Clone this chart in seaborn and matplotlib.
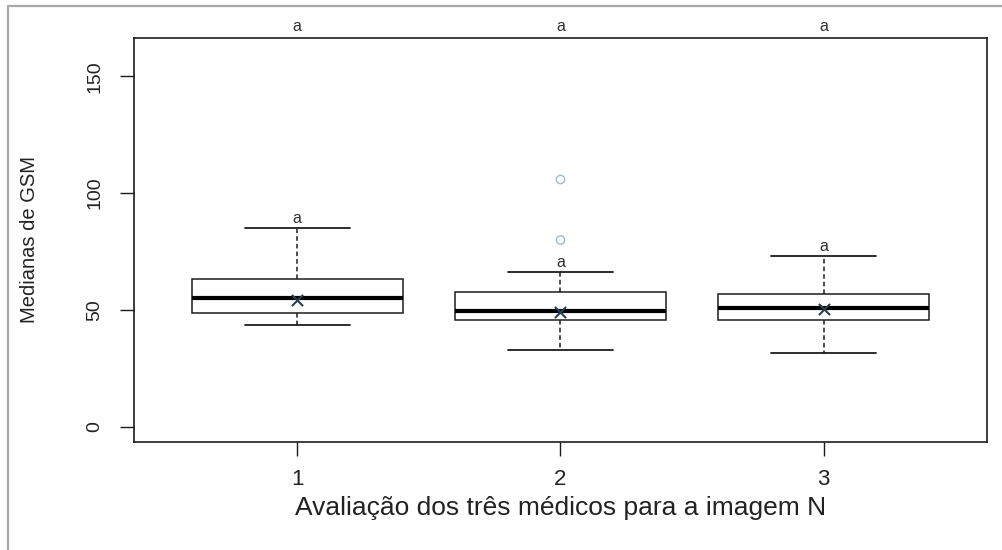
import numpy as np
import pandas as pd
import matplotlib
matplotlib.use("Agg")
import matplotlib.pyplot as plt
from matplotlib.lines import Line2D
import seaborn as sns

# values (GSM medians per doctor)
avaliadores = ["1", "2", "3"]
whisker_low = [43.4, 32.7, 31.6]
q1 = [48.7, 45.5, 45.8]
mediana = [55.1, 49.4, 50.8]
q3 = [63.4, 57.5, 57.0]
whisker_high = [85.1, 66.1, 73.2]
media = [54.3, 49.0, 50.4]
outlier_grupo = ["2", "2"]
outlier_valor = [105.8, 79.9]
letras_topo = ["a", "a", "a"]
letras_caixa = ["a", "a", "a"]

sns.set_theme(style="white")
plt.rcParams["font.family"] = ["Liberation Sans", "DejaVu Sans"]

rows = []
for i, g in enumerate(avaliadores):
    for v in (whisker_low[i], q1[i], mediana[i], q3[i], whisker_high[i]):
        rows.append({"avaliador": g, "gsm": v})
df = pd.DataFrame(rows)

LINE = "#1c1c1c"
fig = plt.figure(figsize=(10.02, 5.5), dpi=100)
ax = fig.add_axes([0.1337, 0.197, 0.8513, 0.734])

sns.boxplot(data=df, x="avaliador", y="gsm", order=avaliadores, whis=(0, 100),
            width=0.8, color="white", linecolor=LINE, linewidth=1.1,
            fliersize=0, ax=ax,
            medianprops={"linewidth": 3.0, "color": "black"},
            whiskerprops={"linestyle": (0, (3, 2)), "linewidth": 1.1},
            capprops={"linewidth": 1.3})

sns.stripplot(x=avaliadores, y=media, order=avaliadores, jitter=False,
              marker="x", s=8, linewidth=1.5, color="#24414f", ax=ax)

n_before = len(ax.collections)
sns.stripplot(x=outlier_grupo, y=outlier_valor, order=avaliadores, jitter=False,
              marker="o", s=6, linewidth=1.0, color="#9dbbcc", ax=ax)
for coll in ax.collections[n_before:]:
    coll.set_facecolor("none")
    coll.set_edgecolor("#9dbbcc")

for i in range(len(avaliadores)):
    ax.text(i, whisker_high[i] + 4, letras_caixa[i], ha="center", va="center",
            fontsize=11.5, color="#2e2e2e")
    ax.text(i, 171.5, letras_topo[i], ha="center", va="center",
            fontsize=11.5, color="#2e2e2e", clip_on=False)

ax.set_xlim(-0.62, 2.62)
ax.set_ylim(-6.4, 166.4)
ax.set_yticks([0, 50, 100, 150])
ax.set_xticks([0, 1, 2])
ax.set_xticklabels(avaliadores)

for s in ax.spines.values():
    s.set_visible(True)
    s.set_color(LINE)
    s.set_linewidth(1.2)

ax.tick_params(axis="both", which="major", direction="out", length=10,
               width=1.0, color=LINE, labelcolor="#222222", left=True, bottom=True)
ax.tick_params(axis="y", labelrotation=90, pad=12, labelsize=14)
ax.tick_params(axis="x", pad=10, labelsize=16)
for lab in ax.get_yticklabels():
    lab.set_va("center")

ax.set_xlabel("Avaliação dos três médicos para a imagem N", fontsize=19, color="#222222")
ax.set_ylabel("Medianas de GSM", fontsize=14.5, color="#222222")
ax.xaxis.set_label_coords(0.5, -0.165)
ax.yaxis.set_label_coords(-0.122, 0.5)
ax.xaxis.label.set_va("center")
ax.yaxis.label.set_va("center")

# grey page frame (left and top edges only)
fig.add_artist(Line2D([8 / 1002, 8 / 1002], [0, 1 - 6 / 550], color="#a8a8a8", linewidth=1.6))
fig.add_artist(Line2D([8 / 1002, 1], [1 - 6 / 550, 1 - 6 / 550], color="#a8a8a8", linewidth=1.6))

fig.savefig("out.png", dpi=100)
